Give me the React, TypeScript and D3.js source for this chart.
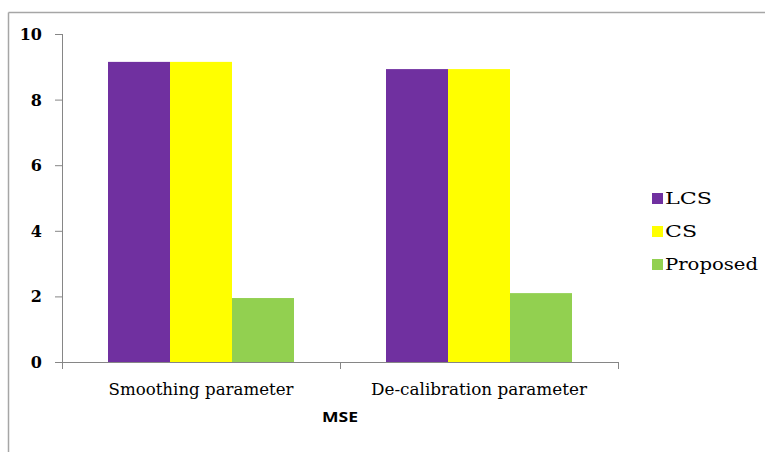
import React from "react";
import * as d3 from "d3";

const categories = ["Smoothing parameter", "De-calibration parameter"];
const seriesNames = ["LCS", "CS", "Proposed"];
const lcsValues = [9.15, 8.93];
const csValues = [9.15, 8.93];
const proposedValues = [1.95, 2.1];
const yTicks = [0, 2, 4, 6, 8, 10];
const colors = ["#7030A0", "#FFFF00", "#92D050"];

export default function App() {
  const W = 765, H = 452;
  const left = 62, right = 618, top = 34, bottom = 362;
  const series = [lcsValues, csValues, proposedValues];
  const y = d3.scaleLinear().domain([0, 10]).range([bottom, top]);
  const x0 = d3.scaleBand<string>().domain(categories).range([left, right]).paddingInner(0).paddingOuter(0);
  const groupPad = 46;
  const x1 = d3.scaleBand<string>().domain(seriesNames).range([groupPad, x0.bandwidth() - groupPad]);
  const axisColor = "#868686";
  const serif = "DejaVu Serif, serif";
  const catWidths = [185, 216];
  const legendWidths = [47, 32, 93];
  return (
    <svg width={W} height={H} style={{ position: "absolute", left: 0, top: 0, background: "#fff" }}>
      <rect x={0} y={0} width={W} height={H} fill="#fff" />
      <line x1={8.5} y1={12.5} x2={W} y2={12.5} stroke="#a6a6a6" strokeWidth={1.5} />
      <line x1={8.5} y1={12.5} x2={8.5} y2={H} stroke="#a6a6a6" strokeWidth={1.5} />
      {categories.map((c, ci) =>
        series.map((vals, si) => (
          <rect
            key={c + si}
            x={x0(c)! + x1(seriesNames[si])!}
            y={y(vals[ci])}
            width={x1.bandwidth()}
            height={bottom - y(vals[ci])}
            fill={colors[si]}
          />
        ))
      )}
      <line x1={left + 0.5} y1={top} x2={left + 0.5} y2={bottom} stroke={axisColor} strokeWidth={1} />
      {yTicks.map((t) => (
        <g key={t}>
          <line x1={left - 7} x2={left} y1={y(t) + 0.5} y2={y(t) + 0.5} stroke={axisColor} />
          <text x={42} y={y(t) + 6} textAnchor="end" fontFamily={serif} fontWeight="bold" fontSize={16} fill="#000">
            {t}
          </text>
        </g>
      ))}
      <line x1={left} y1={bottom + 0.5} x2={right} y2={bottom + 0.5} stroke={axisColor} />
      {[left, left + x0.bandwidth(), right].map((tx, i) => (
        <line key={i} x1={tx + 0.5} x2={tx + 0.5} y1={bottom} y2={bottom + 7} stroke={axisColor} />
      ))}
      {categories.map((c, i) => (
        <text
          key={c}
          x={x0(c)! + x0.bandwidth() / 2}
          y={395}
          textAnchor="middle"
          fontFamily={serif}
          fontSize={17}
          fill="#000"
          textLength={catWidths[i]}
          lengthAdjust="spacingAndGlyphs"
        >
          {c}
        </text>
      ))}
      <text
        x={(left + right) / 2}
        y={422}
        textAnchor="middle"
        fontFamily="Open Sans, Noto Sans, sans-serif"
        fontWeight="bold"
        fontSize={15}
        fill="#000"
        textLength={36}
        lengthAdjust="spacingAndGlyphs"
      >
        MSE
      </text>
      {seriesNames.map((s, i) => (
        <g key={s} transform={`translate(652, ${193 + i * 33})`}>
          <rect x={0} y={0} width={11} height={11} fill={colors[i]} />
          <text x={13} y={11} fontFamily={serif} fontSize={16} fill="#000" textLength={legendWidths[i]} lengthAdjust="spacingAndGlyphs">
            {s}
          </text>
        </g>
      ))}
    </svg>
  );
}
